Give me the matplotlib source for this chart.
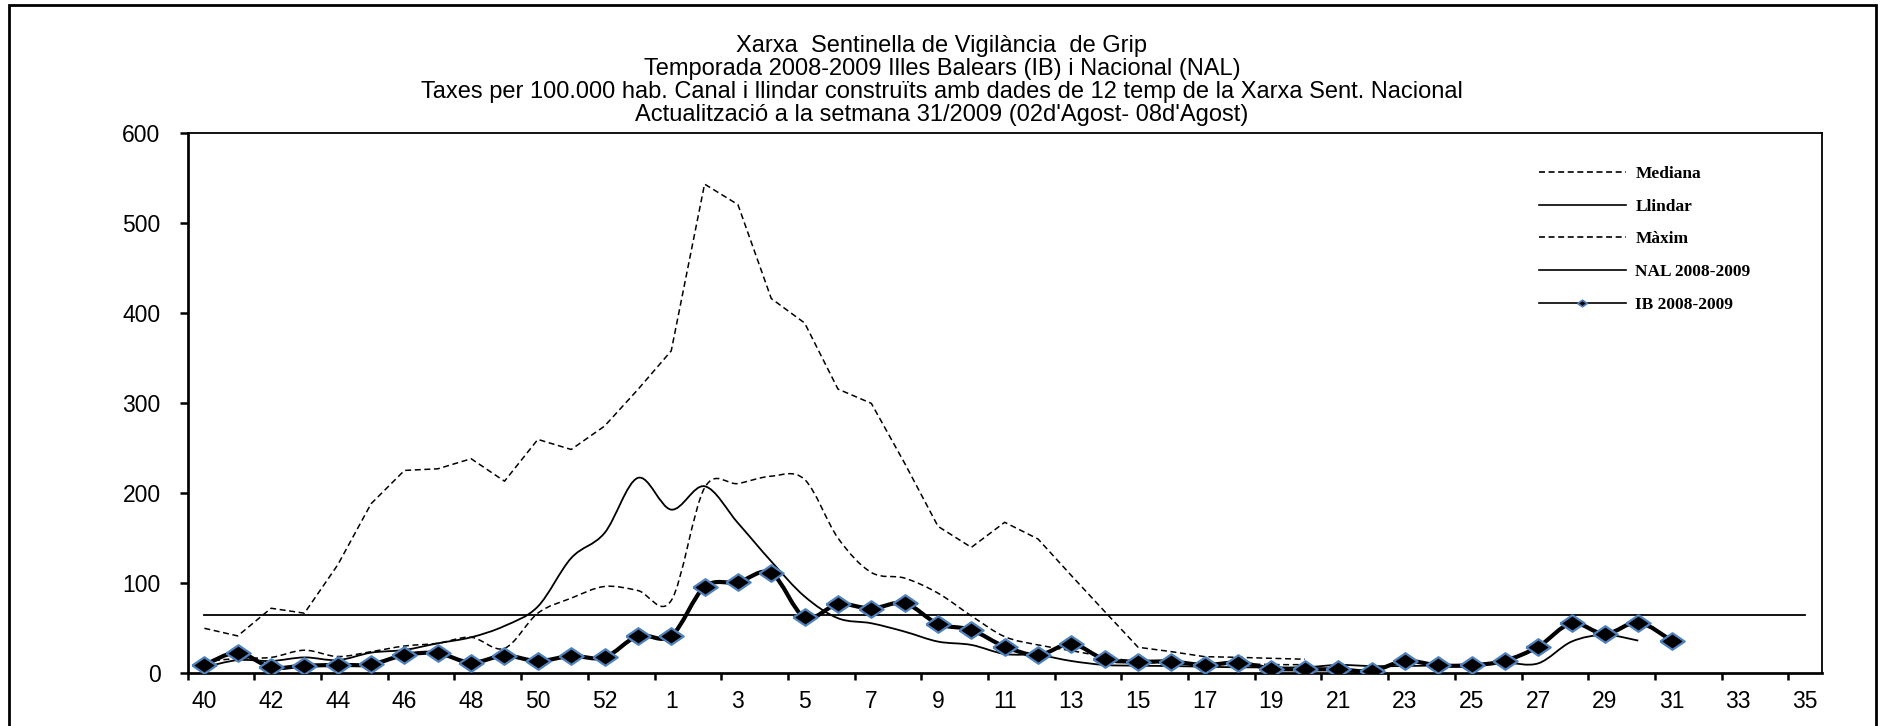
import matplotlib
matplotlib.use("Agg")
import matplotlib.pyplot as plt
import numpy as np
from matplotlib.path import Path
from matplotlib.patches import PathPatch, Rectangle
from matplotlib.lines import Line2D
from matplotlib.font_manager import FontProperties

# setmanes epidemiologiques 40..53 (2008) i 1..35 (2009)
weeks = list(range(40, 54)) + list(range(1, 36))

mediana = [12, 16, 17, 25, 18, 23.4, 29.7, 32.7, 39.4, 27.1, 66.2, 82.9, 95.9, 91.4,
           80.3, 205.6, 210.4, 218.6, 214.9, 149.8, 111.5, 105.2, 88.5, 63.2, 40.1,
           30.9, 24.5, 17.8, 12, 11, 10, 10, 9, 9]
maxim = [49.4, 40.9, 71.7, 66.2, 120, 188, 225, 226.8, 238, 213, 259.5, 248.3, 274.3, 315,
         358, 543.5, 520.7, 416.2, 389, 315.5, 299.6, 233, 162.8, 139.4, 167.3,
         148.7, 108, 68, 28.3, 23.4, 17.8, 17.1, 16, 15]
nal = [6, 14, 13, 17, 14, 22.3, 25.3, 32.7, 39.4, 52, 73.6, 127.5, 155.4, 216.7,
       181.4, 207.4, 166.5, 123.8, 84.8, 60.6, 55, 45.7, 34.6, 30.9, 20.8, 19.7,
       13, 8.6, 7.8, 7.4, 6.7, 6, 6, 6, 8.6, 7.4, 7.4, 8.2, 9.3, 11.2, 10.4, 34.6,
       42, 35.7]
ib = [8.6, 22.3, 6, 7.8, 8.6, 9.3, 19.7, 21.6, 11.2, 19, 13, 18.6, 17.1, 40.9,
      40.9, 95.5, 100.7, 110.8, 61.7, 76.2, 71.4, 77.3, 54.3, 47.6, 29, 19.7, 32,
      14.9, 12.3, 12.3, 8.6, 11.2, 4.6, 3.7, 3.7, 1.9, 13, 8.2, 8.2, 13.4, 29, 55,
      43.1, 55.8, 35.7]
llindar = 64.5

titles = ["Xarxa  Sentinella de Vigilància  de Grip",
          "Temporada 2008-2009 Illes Balears (IB) i Nacional (NAL)",
          "Taxes per 100.000 hab. Canal i llindar construïts amb dades de 12 temp de la Xarxa Sent. Nacional",
          "Actualització a la setmana 31/2009 (02d'Agost- 08d'Agost)"]
labels = ["Mediana", "Llindar", "Màxim", "NAL 2008-2009", "IB 2008-2009"]

plt.rcParams['lines.scale_dashes'] = False
plt.rcParams['font.family'] = ['Liberation Sans', 'DejaVu Sans']

W, H = 1881, 726
DASH = (0, (4.3, 2.6))
DIAMOND = [(-1, 0), (0, 0.68), (1, 0), (0, -0.68), (-1, 0)]
BLUE = '#4f81bd'


def smooth_path(xs, ys):
    # corba suau tipus Excel (Bezier amb punts de control Catmull-Rom)
    pts = np.column_stack([xs, ys]).astype(float)
    verts = [pts[0]]
    codes = [Path.MOVETO]
    for i in range(len(pts) - 1):
        p0 = pts[i - 1] if i > 0 else pts[i]
        p1 = pts[i]
        p2 = pts[i + 1]
        p3 = pts[i + 2] if i + 2 < len(pts) else p2
        verts += [p1 + (p2 - p0) / 6, p2 - (p3 - p1) / 6, p2]
        codes += [Path.CURVE4] * 3
    return Path(verts, codes)


fig = plt.figure(figsize=(W / 100, H / 100), dpi=100)
ax = fig.add_axes([187.7 / W, (H - 672.7) / H, 1634 / W, 539.4 / H])

x = np.arange(len(weeks))

ax.add_patch(PathPatch(smooth_path(x[:len(mediana)], mediana), fill=False,
                       ec='black', lw=1.1, ls=DASH, zorder=2))
ax.plot(x[:len(maxim)], maxim, color='black', lw=1.1, ls=DASH, zorder=2)
ax.plot(x, [llindar] * len(x), color='black', lw=1.3, zorder=2)
ax.add_patch(PathPatch(smooth_path(x[:len(nal)], nal), fill=False,
                       ec='black', lw=1.3, zorder=3))
ax.add_patch(PathPatch(smooth_path(x[:len(ib)], ib), fill=False,
                       ec='black', lw=3.0, zorder=4))
ax.plot(x[:len(ib)], ib, ls='none', marker=DIAMOND, ms=17.5, mfc='black',
        mec=BLUE, mew=1.6, zorder=5)

ax.set_xlim(-0.5, len(weeks) - 0.5)
ax.set_ylim(0, 600)
ax.set_yticks(range(0, 601, 100))

# marques als limits de categoria, etiquetes al centre
ax.set_xticks(np.arange(-0.5, len(weeks) - 1, 2))
ax.set_xticklabels([])
ax.set_xticks(x[::2], minor=True)
ax.set_xticklabels([str(w) for w in weeks[::2]], minor=True)
ax.tick_params(axis='x', which='major', direction='out', length=5.2, width=1.8)
ax.tick_params(axis='x', which='minor', length=0, pad=12.5, labelsize=16.5)
ax.tick_params(axis='y', direction='out', length=5.5, width=1.8, pad=14, labelsize=16.5)

for side in ['left', 'bottom']:
    ax.spines[side].set_linewidth(1.95)
for side in ['top', 'right']:
    ax.spines[side].set_linewidth(1.3)

for i, t in enumerate(titles):
    fig.text(942 / W, 1 - (46 + 23 * i) / H, t, ha='center', va='center',
             fontsize=17, color='black')

handles = [Line2D([], [], color='black', lw=1.2, ls=DASH),
           Line2D([], [], color='black', lw=1.2),
           Line2D([], [], color='black', lw=1.2, ls=DASH),
           Line2D([], [], color='black', lw=1.2),
           Line2D([], [], color='black', lw=1.2, marker=DIAMOND, ms=7,
                  mfc='black', mec=BLUE, mew=1.2)]
fig.legend(handles, labels, loc='upper left', bbox_to_anchor=(1539 / W, 1 - 166 / H),
           frameon=False, borderpad=0, borderaxespad=0, handlelength=5.0,
           handletextpad=0.55, labelspacing=0.95,
           prop=FontProperties(family='Liberation Serif', weight='bold', size=12.5))

# marc exterior del grafic
fig.patches.append(Rectangle((9 / W, -0.05), (1876 - 9) / W, 1.05 - 5 / H,
                             transform=fig.transFigure, fill=False, ec='black',
                             lw=2.0, zorder=0))

fig.savefig("out.png", dpi=100)
